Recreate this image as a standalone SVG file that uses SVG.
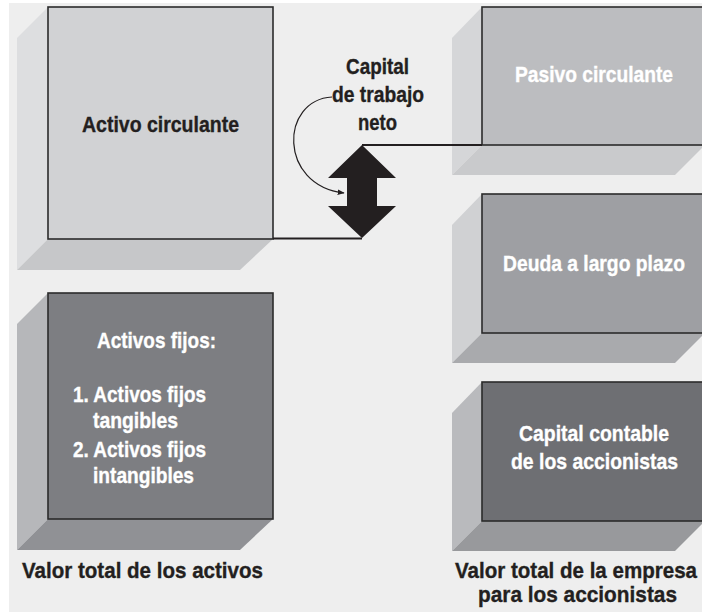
<svg xmlns="http://www.w3.org/2000/svg" width="702" height="612" viewBox="0 0 702 612">
<defs>
<style>
.t{font-family:"Liberation Sans",Arial,sans-serif;font-weight:bold;font-size:22px;stroke-width:0.35;}
.d{fill:#231f20;stroke:#231f20;}
.w{fill:#ffffff;stroke:#ffffff;}
.big{font-size:22.5px;}
.edge{stroke:#2b2b2b;stroke-width:1.6;}
.ln{fill:none;stroke:#231f20;stroke-width:2.2;}
</style>
<marker id="ah" viewBox="0 0 10 10" refX="9" refY="5" markerWidth="7" markerHeight="7" orient="auto" markerUnits="userSpaceOnUse">
<path d="M0,1 L10,5 L0,9 z" fill="#231f20"/>
</marker>
</defs>
<rect x="0" y="0" width="702" height="612" fill="#ffffff"/>
<rect x="9" y="3" width="693" height="609" fill="#eeeeee"/>

<g id="activo-circulante">
<polygon points="48,7 17,38 17,270 48,239" fill="#dddee0"/>
<polygon points="48,239 273,239 240,270 17,270" fill="#c6c7c9"/>
<rect x="48" y="7" width="225" height="232" fill="#d1d2d4" class="edge"/>
<text class="t d" x="160.5" y="132" text-anchor="middle" textLength="157" lengthAdjust="spacingAndGlyphs">Activo circulante</text>
</g>

<g id="activos-fijos">
<polygon points="48,293 17,324 17,550 48,519" fill="#b6b7ba"/>
<polygon points="48,519 273,519 240,550 17,550" fill="#909195"/>
<rect x="48" y="293" width="225" height="226" fill="#7d7e82" class="edge"/>
<text class="t w" x="156.5" y="348" text-anchor="middle" textLength="119" lengthAdjust="spacingAndGlyphs">Activos fijos:</text>
<text class="t w" x="73" y="402" textLength="133" lengthAdjust="spacingAndGlyphs">1. Activos fijos</text>
<text class="t w" x="93" y="428" textLength="85" lengthAdjust="spacingAndGlyphs">tangibles</text>
<text class="t w" x="73" y="457" textLength="133" lengthAdjust="spacingAndGlyphs">2. Activos fijos</text>
<text class="t w" x="93" y="483" textLength="101" lengthAdjust="spacingAndGlyphs">intangibles</text>
</g>

<g id="pasivo-circulante">
<polygon points="482,7 452,38 452,175 482,145" fill="#d5d6d8"/>
<polygon points="482,145 705,145 675,175 452,175" fill="#c9cacc"/>
<rect x="482" y="7" width="225" height="138" fill="#bcbdc0" class="edge"/>
<text class="t w" x="594" y="82" text-anchor="middle" textLength="158" lengthAdjust="spacingAndGlyphs">Pasivo circulante</text>
</g>

<g id="deuda-largo-plazo">
<polygon points="482,194 452,225 452,363 482,333" fill="#d0d1d3"/>
<polygon points="482,333 705,333 675,363 452,363" fill="#a9aaad"/>
<rect x="482" y="194" width="225" height="139" fill="#9e9fa3" class="edge"/>
<text class="t w" x="594" y="271" text-anchor="middle" textLength="182" lengthAdjust="spacingAndGlyphs">Deuda a largo plazo</text>
</g>

<g id="capital-contable">
<polygon points="482,382 452,413 452,551 482,521" fill="#b9babd"/>
<polygon points="482,521 705,521 675,551 452,551" fill="#98999c"/>
<rect x="482" y="382" width="225" height="139" fill="#6e6f73" class="edge"/>
<text class="t w" x="594" y="441" text-anchor="middle" textLength="150" lengthAdjust="spacingAndGlyphs">Capital contable</text>
<text class="t w" x="594.5" y="469" text-anchor="middle" textLength="167" lengthAdjust="spacingAndGlyphs">de los accionistas</text>
</g>

<g id="capital-trabajo-neto">
<text class="t d" x="377.5" y="74" text-anchor="middle" textLength="63" lengthAdjust="spacingAndGlyphs">Capital</text>
<text class="t d" x="378" y="102" text-anchor="middle" textLength="92" lengthAdjust="spacingAndGlyphs">de trabajo</text>
<text class="t d" x="377.5" y="130" text-anchor="middle" textLength="39" lengthAdjust="spacingAndGlyphs">neto</text>
<polygon points="362,145 396,178 377,178 377,206 396,206 362,238 328,206 347,206 347,178 328,178" fill="#231f20"/>
</g>

<g id="connectors">
<polyline class="ln" points="273,238.5 362,238.5"/>
<polyline class="ln" points="362,145 482,145"/>
<path d="M332,97 C280,100 278,185 344,193" fill="none" stroke="#231f20" stroke-width="1.2" marker-end="url(#ah)"/>
</g>

<g id="labels">
<text class="t d big" x="22" y="578" textLength="241" lengthAdjust="spacingAndGlyphs">Valor total de los activos</text>
<text class="t d big" x="576" y="578" text-anchor="middle" textLength="242" lengthAdjust="spacingAndGlyphs">Valor total de la empresa</text>
<text class="t d big" x="577.5" y="602" text-anchor="middle" textLength="199" lengthAdjust="spacingAndGlyphs">para los accionistas</text>
</g>
</svg>
